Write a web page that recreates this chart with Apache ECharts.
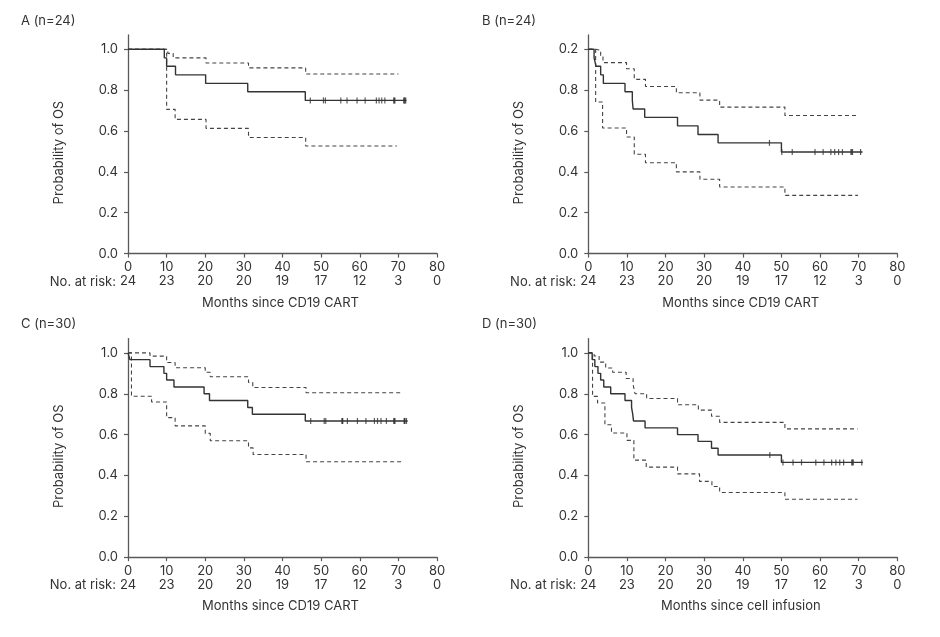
<!DOCTYPE html>
<html><head><meta charset="utf-8">
<script src="https://cdn.jsdelivr.net/npm/echarts@6/dist/echarts.min.js"></script>
<style>html,body{margin:0;padding:0;background:#fff}#c{width:940px;height:637px}</style>
</head><body><div id="c"></div>
<script>
// ---------- shared axis data ----------
const xTicks = [0, 10, 20, 30, 40, 50, 60, 70, 80];
const atRisk = ['24', '23', '20', '20', '19', '17', '12', '3', '0'];
const yTicks = [0, 0.2, 0.4, 0.6, 0.8, 1.0];
const yLabelsStd = ['0.0', '0.2', '0.4', '0.6', '0.8', '1.0'];
const yLabelsB = ['0.0', '0.2', '0.4', '0.6', '0.8', '0.2'];

// ---------- panel A ----------
const aSurv = [[0,1],[9.4,0.958],[10.0,0.917],[12.3,0.875],[20.1,0.833],[31.0,0.792],[45.9,0.75],[72.1,0.75]];
const aUpper = [[0,1],[10.3,0.98],[11.7,0.958],[20.2,0.933],[31.2,0.909],[46.0,0.879],[70.0,0.879]];
const aLower = [[0,1],[10.0,0.706],[12.2,0.657],[20.2,0.613],[31.2,0.568],[46.0,0.527],[69.6,0.527]];
const aCens = [47.2,50.6,51.1,55.1,56.7,59.3,61.4,64.3,65.0,65.7,66.5,68.8,68.95,69.1,71.4,71.55,71.7,71.9];

// ---------- panel B ----------
const bSurv = [[0,1],[1.5,0.958],[2.0,0.917],[3.2,0.875],[3.9,0.833],[9.5,0.792],[11.4,0.75],[11.6,0.708],[14.6,0.667],[23.1,0.625],[28.4,0.583],[33.6,0.542],[50.0,0.497],[71.0,0.497]];
const bUpper = [[0,1],[1.9,0.995],[3.2,0.965],[3.8,0.935],[9.9,0.905],[11.9,0.853],[14.8,0.818],[22.8,0.787],[28.9,0.751],[34.0,0.717],[50.9,0.676],[69.8,0.676]];
const bLower = [[0,1],[1.9,0.742],[3.7,0.615],[9.9,0.571],[11.9,0.486],[14.8,0.445],[22.8,0.40],[28.9,0.364],[34.0,0.326],[50.9,0.285],[69.8,0.285]];
const bCens = [46.9,50.1,52.8,58.7,60.8,62.8,63.8,64.8,65.8,68.0,68.2,68.4,70.5];

// ---------- panel C ----------
const cSurv = [[0,1],[0.5,0.967],[5.7,0.933],[9.3,0.9],[10.0,0.867],[11.9,0.833],[19.7,0.8],[21.1,0.767],[31.0,0.733],[32.2,0.70],[45.9,0.667],[72.4,0.667]];
const cUpper = [[0,1],[5.7,0.984],[10.0,0.953],[12.2,0.927],[20.0,0.905],[21.3,0.883],[31.2,0.855],[32.3,0.831],[46.1,0.805],[70.9,0.805]];
const cLower = [[0,1],[0.9,0.788],[6.1,0.760],[10.0,0.683],[12.2,0.643],[20.0,0.606],[21.3,0.570],[31.2,0.535],[32.4,0.503],[46.1,0.467],[71.4,0.467]];
const cCens = [47.3,50.8,51.2,55.4,55.5,55.6,56.8,59.4,61.6,63.8,64.6,65.5,66.9,68.8,69.0,69.1,71.5,71.6,71.7,72.1];

// ---------- panel D ----------
const dSurv = [[0,1],[1.0,0.967],[1.7,0.933],[2.5,0.9],[3.2,0.867],[4.0,0.833],[5.8,0.8],[9.5,0.767],[11.2,0.733],[11.5,0.7],[11.7,0.667],[14.7,0.633],[23.1,0.6],[28.4,0.567],[31.9,0.533],[33.6,0.5],[50.0,0.464],[71.1,0.464]];
const dUpper = [[0,1],[1.5,0.985],[2.8,0.955],[4.5,0.926],[6.3,0.905],[9.8,0.875],[11.6,0.845],[12.1,0.80],[15.1,0.777],[23.1,0.746],[28.5,0.72],[31.9,0.69],[34.0,0.66],[50.9,0.628],[69.7,0.628]];
const dLower = [[0,1],[1.1,0.787],[2.4,0.755],[4.3,0.648],[6.0,0.608],[10.0,0.572],[11.8,0.475],[15.0,0.441],[23.1,0.408],[28.8,0.371],[32.0,0.346],[34.0,0.317],[50.9,0.284],[69.7,0.284]];
const dCens = [47.0,50.4,53.0,55.2,58.9,61.0,63.0,64.1,65.1,66.1,68.2,68.4,68.6,70.8];

const titles = ['A (n=24)', 'B (n=24)', 'C (n=30)', 'D (n=30)'];
const xNames = ['Months since CD19 CART', 'Months since CD19 CART', 'Months since CD19 CART', 'Months since cell infusion'];
const yName = 'Probability of OS';
const riskTitle = 'No. at risk:';

const panels = [
  {surv: aSurv, up: aUpper, lo: aLower, cens: aCens, yl: yLabelsStd, left: 128, top: 35, tx: 21, ty: 23},
  {surv: bSurv, up: bUpper, lo: bLower, cens: bCens, yl: yLabelsB, left: 588.3, top: 35, tx: 482, ty: 23},
  {surv: cSurv, up: cUpper, lo: cLower, cens: cCens, yl: yLabelsStd, left: 128, top: 338.6, tx: 21, ty: 326},
  {surv: dSurv, up: dUpper, lo: dLower, cens: dCens, yl: yLabelsStd, left: 588.3, top: 338.6, tx: 482, ty: 326}
];

const W = 309, H = 218.6;
const FONT = 'Inter';
const TXT = '#333';
const AX = '#595959';

function survAt(surv, t) {
  let v = surv[0][1];
  for (const p of surv) { if (p[0] <= t) v = p[1]; }
  return v;
}

const grid = [], xAxis = [], yAxis = [], series = [], graphic = [];
panels.forEach((p, i) => {
  grid.push({left: p.left, top: p.top, width: W, height: H, containLabel: false});
  xAxis.push({
    type: 'value', gridIndex: i, min: 0, max: 80, interval: 10, position: 'bottom',
    axisLine: {show: true, onZero: false, lineStyle: {color: AX, width: 1.3}},
    axisTick: {show: true, length: 4, lineStyle: {color: AX, width: 1.2}},
    axisLabel: {margin: 7, fontFamily: FONT, fontSize: 13, color: TXT},
    splitLine: {show: false}
  });
  xAxis.push({
    type: 'value', gridIndex: i, min: 0, max: 80, interval: 10, position: 'bottom', offset: 14,
    axisLine: {show: false}, axisTick: {show: false}, splitLine: {show: false},
    axisLabel: {margin: 7, fontFamily: FONT, fontSize: 13, color: TXT,
      formatter: v => atRisk[xTicks.indexOf(Math.round(v))] || ''}
  });
  yAxis.push({
    type: 'value', gridIndex: i, min: 0, max: 1.07,
    axisLine: {show: true, onZero: false, lineStyle: {color: AX, width: 1.3}},
    axisTick: {show: true, length: 4, customValues: yTicks, lineStyle: {color: AX, width: 1.2}},
    axisLabel: {margin: 10, fontFamily: FONT, fontSize: 13, color: TXT, customValues: yTicks,
      formatter: v => { const k = yTicks.findIndex(t => Math.abs(t - v) < 1e-6); return k >= 0 ? p.yl[k] : ''; }},
    splitLine: {show: false}
  });
  const xi = i * 2;
  series.push({type: 'line', xAxisIndex: xi, yAxisIndex: i, data: p.up, step: 'end', showSymbol: false,
    lineStyle: {color: '#444', width: 1.1, type: [4, 3]}, z: 2, silent: true});
  series.push({type: 'line', xAxisIndex: xi, yAxisIndex: i, data: p.lo, step: 'end', showSymbol: false,
    lineStyle: {color: '#444', width: 1.1, type: [4, 3]}, z: 2, silent: true});
  series.push({type: 'line', xAxisIndex: xi, yAxisIndex: i, data: p.surv, step: 'end', showSymbol: false,
    lineStyle: {color: '#333', width: 1.4}, z: 3, silent: true});
  series.push({type: 'scatter', xAxisIndex: xi, yAxisIndex: i,
    data: p.cens.map(t => [t, survAt(p.surv, t)]),
    symbol: 'rect', symbolSize: [1.2, 6], itemStyle: {color: '#333'}, z: 4, silent: true});

  // texts
  const cx = p.left + W / 2;
  const axisY = p.top + H;
  graphic.push({type: 'text', left: p.tx, top: p.ty - 8,
    style: {text: titles[i], fontFamily: FONT, fontSize: 13, fill: TXT}});
  graphic.push({type: 'text', x: p.left - 69, y: axisY - 101, rotation: Math.PI / 2,
    style: {text: yName, fontFamily: FONT, fontSize: 13, fill: TXT, align: 'center', verticalAlign: 'middle'}});
  graphic.push({type: 'text', x: p.left - 12, y: axisY + 28,
    style: {text: riskTitle, fontFamily: FONT, fontSize: 13, fill: TXT, align: 'right', verticalAlign: 'middle'}});
  graphic.push({type: 'text', x: cx - 2, y: axisY + 49,
    style: {text: xNames[i], fontFamily: FONT, fontSize: 13, fill: TXT, align: 'center', verticalAlign: 'middle'}});
});

const chart = echarts.init(document.getElementById('c'), null, {renderer: 'canvas'});
chart.setOption({animation: false, backgroundColor: '#fff', grid, xAxis, yAxis, series, graphic});
</script>
</body></html>
